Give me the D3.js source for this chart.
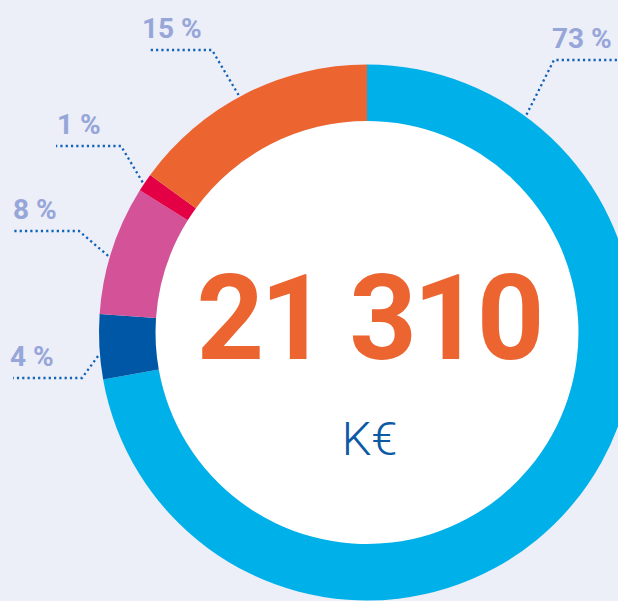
<!DOCTYPE html>
<html>
<head>
<meta charset="utf-8">
<script src="https://cdn.jsdelivr.net/npm/d3@7"></script>
<style>
  html, body { margin: 0; padding: 0; background: #eceef8; overflow: hidden; }
  svg { display: block; }
</style>
</head>
<body>
<div id="chart"></div>
<script>
// ---- Data ----
const categories = ["A", "B", "C", "D", "E"];
const shares = [72.2, 3.9, 7.8, 1.1, 15.0];           // slice sizes (%)
const shareLabels = ["73 %", "4 %", "8 %", "1 %", "15 %"]; // printed labels
const colors = ["#00b0e9", "#0057a5", "#d45298", "#e30045", "#ec6531"];
const totalValue = "21 310";
const unitLabel = "K€";

// ---- Layout (kept apart from data) ----
const W = 618, H = 601;
const cx = 367, cy = 332.5;
const outerR = 268, innerR = 211.5;
// leader: anchor angle (deg, clockwise from top), elbow offset, horizontal run, direction, text nudge
const leaders = [
  { angle: 36.2, elbow: [28, -55], run: 80, dir: 1, tdx: -2 },
  { angle: 265.0, elbow: [-16, 22], run: 69, dir: -1, tdx: -3 },
  { angle: 286.5, elbow: [-29, -25], run: 65, dir: -1, tdx: -1 },
  { angle: 303.8, elbow: [-22, -36], run: 65, dir: -1, tdx: 1 },
  { angle: 331.6, elbow: [-27, -45], run: 64, dir: -1, tdx: -6 }
];

const svg = d3.select("#chart").append("svg")
  .attr("width", W).attr("height", H);

svg.append("rect").attr("width", W).attr("height", H).attr("fill", "#eceef8");

const g = svg.append("g").attr("transform", `translate(${cx},${cy})`);

const data = categories.map((c, i) => ({ cat: c, value: shares[i], label: shareLabels[i], color: colors[i], i }));

const pie = d3.pie().value(d => d.value).sort(null).startAngle(0).endAngle(2 * Math.PI);
const arc = d3.arc().innerRadius(innerR).outerRadius(outerR);
const arcs = pie(data);

// white centre
g.append("circle").attr("r", innerR).attr("fill", "#ffffff");

g.selectAll("path.slice").data(arcs).join("path")
  .attr("class", "slice")
  .attr("d", arc)
  .attr("fill", d => d.data.color);

// leaders + labels (drawn in page coordinates so the dotted runs snap to pixels)
const leaderR = outerR + 2;
arcs.forEach((a, i) => {
  const L = leaders[i];
  const ang = L.angle * Math.PI / 180;
  const ex = cx + Math.sin(ang) * leaderR, ey = cy - Math.cos(ang) * leaderR;
  const bx = Math.round(ex + L.elbow[0]), by = Math.round(ey + L.elbow[1]);
  const hx = bx + L.dir * L.run;
  svg.append("path")
    .attr("d", d3.line()([[ex, ey], [bx, by], [hx, by]]))
    .attr("fill", "none")
    .attr("stroke", "#1063b6")
    .attr("stroke-width", 2.3)
    .attr("stroke-dasharray", "2.2 3.1");
  const tx = (L.dir > 0 ? bx : hx) + L.tdx;
  svg.append("text")
    .attr("x", tx)
    .attr("y", by - 12.5)
    .attr("font-family", "Roboto, 'Noto Sans', sans-serif")
    .attr("font-weight", 700)
    .attr("font-size", 28)
    .attr("fill", "#97a6d9")
    .text(a.data.label);
});

// centre texts
g.append("text")
  .attr("x", 1.5).attr("y", 359 - cy)
  .attr("text-anchor", "middle")
  .attr("font-family", "Roboto, sans-serif")
  .attr("font-weight", 700)
  .attr("font-size", 118)
  .attr("letter-spacing", -4)
  .attr("fill", "#ec6531")
  .text(totalValue);

g.append("text")
  .attr("x", 2.5).attr("y", 455 - cy)
  .attr("text-anchor", "middle")
  .attr("font-family", "Roboto, sans-serif")
  .attr("font-weight", 300)
  .attr("font-size", 47)
  .attr("fill", "#0c5aa6")
  .text(unitLabel);
</script>
</body>
</html>
